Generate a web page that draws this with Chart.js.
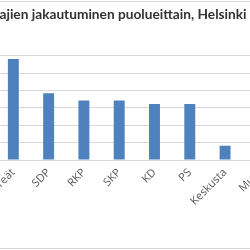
<!DOCTYPE html>
<html>
<head>
<meta charset="utf-8">
<script src="https://cdn.jsdelivr.net/npm/chart.js@4"></script>
<style>
  html, body { margin: 0; padding: 0; background: #fff; overflow: hidden; }
  #frame {
    position: absolute; left: -10px; top: 1px; width: 270px; height: 246px;
    border-top: 1px solid #d9d9d9; border-bottom: 1px solid #d9d9d9;
  }
  #wrap { position: absolute; left: -32.5px; top: 0; width: 310px; height: 250px; }
</style>
</head>
<body>
<div id="frame"></div>
<div id="wrap"><canvas id="chart" width="310" height="250"></canvas></div>
<script>
const titleText = 'ajien jakautuminen puolueittain, Helsinki';
const parties = ['Vihreät', 'SDP', 'RKP', 'SKP', 'KD', 'PS', 'Keskusta', 'Muut'];
const shares = [29.0, 19.2, 17.1, 17.1, 16.1, 16.1, 4.1, 2.0];
const yTicks = [0, 5, 10, 15, 20, 25, 30];

document.addEventListener('DOMContentLoaded', function () {
    const ctx = document.getElementById('chart').getContext('2d');
    new Chart(ctx, {
        type: 'bar',
        data: {
            labels: parties,
            datasets: [{
                data: shares,
                backgroundColor: '#4f81bd',
                borderWidth: 0,
                categoryPercentage: 1,
                barPercentage: 0.31
            }]
        },
        options: {
            responsive: false,
            animation: false,
            layout: { padding: 0 },
            plugins: {
                legend: { display: false },
                tooltip: { enabled: false },
                title: {
                    display: true,
                    text: titleText,
                    color: '#333',
                    font: { family: 'Lato', size: 13.7, weight: 'bold', lineHeight: 1.2 },
                    padding: { top: 6.8, bottom: 32.4 }
                }
            },
            scales: {
                x: {
                    grid: { display: false, drawTicks: false },
                    border: { display: true, color: '#d9d9d9' },
                    ticks: {
                        color: '#595959',
                        font: { family: 'Open Sans', size: 11 },
                        minRotation: 45,
                        maxRotation: 45,
                        padding: 6,
                        autoSkip: false
                    },
                    afterFit: function (scale) { scale.height = 89.9; }
                },
                y: {
                    min: yTicks[0],
                    max: yTicks[yTicks.length - 1],
                    ticks: { display: false, stepSize: yTicks[1] - yTicks[0] },
                    grid: { color: '#d9d9d9', drawTicks: false },
                    border: { display: false },
                    afterFit: function (scale) { scale.width = 27.7; }
                }
            }
        }
    });
});
</script>
</body>
</html>
